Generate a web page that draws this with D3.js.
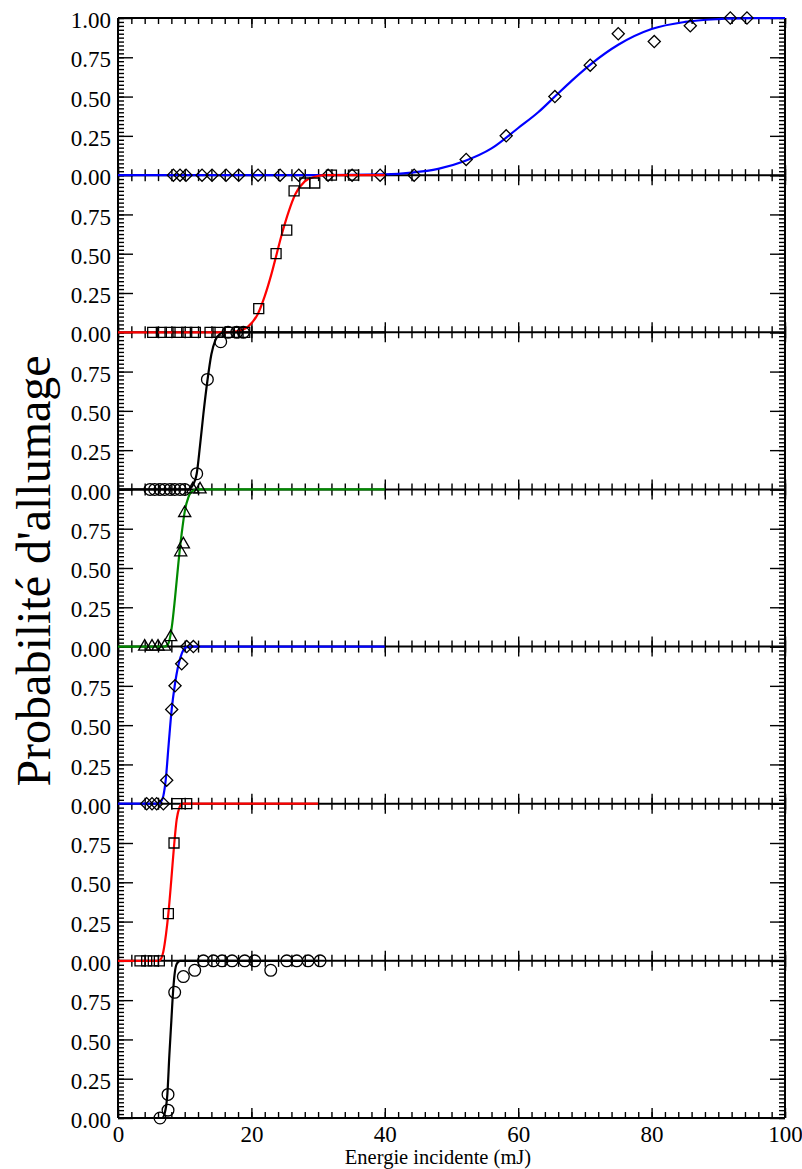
<!DOCTYPE html>
<html><head><meta charset="utf-8">
<script src="https://cdn.jsdelivr.net/npm/d3@7"></script>
<style>
html,body{margin:0;padding:0;background:#fff;}
svg{display:block;}
</style>
</head><body>
<svg id="c" width="802" height="1169" font-family="Liberation Serif, Times New Roman, serif"></svg>
<script>
// ---------- data ----------
const xMajorTicks = [0, 20, 40, 60, 80, 100];
const yMajorTicks = [0, 0.25, 0.5, 0.75];
const yTopPanelTicks = [0, 0.25, 0.5, 0.75, 1];
const xTitle = "Energie incidente (mJ)";
const yTitle = "Probabilité d'allumage";

// panel 1 (diamonds, blue)
const p1MarkX = [8.3, 9.3, 10.2, 12.6, 14.1, 16.2, 18.1, 21.0, 24.3, 27.1, 31.5, 35.1, 39.3, 44.4, 52.2, 58.2, 65.5, 70.8, 75.0, 80.4, 85.8, 91.8, 94.3];
const p1MarkP = [0, 0, 0, 0, 0, 0, 0, 0, 0, 0, 0, 0, 0, 0, 0.10, 0.25, 0.50, 0.70, 0.90, 0.85, 0.95, 1.00, 1.00];
const p1FitX = [0, 30, 40, 44, 48, 52, 56, 60, 63, 65.5, 68, 71, 75, 80, 85, 90, 95, 100];
const p1FitP = [0, 0, 0.005, 0.016, 0.04, 0.09, 0.17, 0.30, 0.40, 0.50, 0.60, 0.71, 0.83, 0.93, 0.975, 0.993, 0.999, 1];

// panel 2 (squares, red)
const p2MarkX = [5.2, 6.5, 7.8, 9.0, 10.3, 11.6, 13.8, 15.0, 16.7, 18.0, 19.0, 21.1, 23.7, 25.3, 26.4, 28.0, 29.5, 32.0, 35.3];
const p2MarkP = [0, 0, 0, 0, 0, 0, 0, 0, 0, 0, 0, 0.15, 0.50, 0.65, 0.90, 0.95, 0.95, 1, 1];
const p2FitX = [0, 16, 18, 19.5, 21, 22, 23, 23.8, 24.6, 25.6, 26.6, 28, 29.5, 31, 40];
const p2FitP = [0, 0, 0.008, 0.036, 0.12, 0.23, 0.37, 0.50, 0.63, 0.77, 0.88, 0.96, 0.99, 1, 1];

// panel 3 (circles, black)
const p3MarkX = [4.8, 5.5, 6.3, 7.0, 7.8, 8.5, 9.3, 10.0, 11.8, 13.4, 15.4, 16.5, 17.8, 18.8];
const p3MarkP = [0, 0, 0, 0, 0, 0, 0, 0, 0.10, 0.70, 0.94, 1, 1, 1];
const p3FitX = [0, 10.5, 11.1, 11.8, 12.3, 12.8, 13.4, 14.0, 14.6, 15.3, 16, 40];
const p3FitP = [0, 0, 0.02, 0.10, 0.28, 0.48, 0.69, 0.86, 0.95, 0.99, 1, 1];

// panel 4 (triangles, green)
const p4MarkX = [4.0, 5.1, 6.0, 7.0, 7.9, 9.4, 9.8, 10.0, 11.2, 12.3];
const p4MarkP = [0, 0, 0, 0, 0.06, 0.60, 0.65, 0.85, 1, 1];
const p4FitX = [0, 7.0, 7.55, 8.05, 8.55, 9.05, 9.55, 10.05, 10.55, 11.05, 11.8, 40];
const p4FitP = [0, 0, 0.02, 0.12, 0.31, 0.53, 0.72, 0.87, 0.95, 0.985, 1, 1];

// panel 5 (diamonds, blue)
const p5MarkX = [4.3, 5.1, 5.8, 6.8, 7.3, 8.05, 8.55, 9.55, 10.3, 11.3];
const p5MarkP = [0, 0, 0, 0, 0.15, 0.60, 0.75, 0.89, 1, 1];
const p5FitX = [0, 6.0, 6.4, 6.8, 7.15, 7.6, 8.05, 8.5, 9.1, 9.6, 10.2, 11, 40];
const p5FitP = [0, 0, 0.01, 0.05, 0.15, 0.38, 0.60, 0.75, 0.89, 0.96, 0.995, 1, 1];

// panel 6 (squares, red)
const p6MarkX = [3.3, 4.3, 5.3, 6.2, 7.55, 8.4, 8.8, 10.3];
const p6MarkP = [0, 0, 0, 0, 0.30, 0.75, 1, 1];
const p6FitX = [0, 6.0, 6.3, 6.8, 7.2, 7.55, 8.0, 8.4, 8.8, 9.2, 9.6, 30];
const p6FitP = [0, 0, 0.005, 0.06, 0.17, 0.30, 0.52, 0.73, 0.90, 0.975, 1, 1];

// panel 7 (circles, black)
const p7MarkX = [6.3, 7.5, 7.5, 8.5, 9.8, 11.5, 12.8, 14.3, 15.6, 17.1, 19.0, 20.5, 22.9, 25.3, 26.8, 28.5, 30.3];
const p7MarkP = [0, 0.05, 0.15, 0.80, 0.90, 0.94, 1, 1, 1, 1, 1, 1, 0.94, 1, 1, 1, 1];
const p7FitX = [0, 6.6, 7.0, 7.4, 7.7, 8.0, 8.25, 8.5, 8.8, 9.3, 30];
const p7FitP = [0, 0, 0.03, 0.15, 0.40, 0.62, 0.80, 0.92, 0.98, 1, 1];

const panels = [
  {mx: p1MarkX, mp: p1MarkP, fx: p1FitX, fp: p1FitP, sym: "diamond",  color: "#0000ff"},
  {mx: p2MarkX, mp: p2MarkP, fx: p2FitX, fp: p2FitP, sym: "square",   color: "#ff0000"},
  {mx: p3MarkX, mp: p3MarkP, fx: p3FitX, fp: p3FitP, sym: "circle",   color: "#000000"},
  {mx: p4MarkX, mp: p4MarkP, fx: p4FitX, fp: p4FitP, sym: "triangle", color: "#008a00"},
  {mx: p5MarkX, mp: p5MarkP, fx: p5FitX, fp: p5FitP, sym: "diamond",  color: "#0000ff"},
  {mx: p6MarkX, mp: p6MarkP, fx: p6FitX, fp: p6FitP, sym: "square",   color: "#ff0000"},
  {mx: p7MarkX, mp: p7MarkP, fx: p7FitX, fp: p7FitP, sym: "circle",   color: "#000000"}
];

// ---------- layout ----------
const FONT = "Liberation Serif, Times New Roman, serif";
const L = 118, R = 785, T = 18, B = 1118;
const n = panels.length;
const ph = (B - T) / n;
const svg = d3.select("#c");
const x = d3.scaleLinear().domain([0, 100]).range([L, R]);
const xMinor = d3.range(0, 100.001, 2);
const yMinor = d3.range(0, 1.0001, 0.025);
const fmt = d3.format(".2f");

const axesG = svg.append("g");
const plotG = svg.append("g");

function clean(sel) {
  sel.attr("font-family", FONT).attr("font-size", 23);
  sel.select(".domain").remove();
  sel.selectAll(".tick line").attr("stroke", "#000").attr("stroke-width", 1.4);
  sel.selectAll("text").attr("font-size", 23).attr("fill", "#000").attr("font-family", FONT);
  return sel;
}

const symbolTypes = {
  diamond: d3.symbol().type(d3.symbolSquare).size(74),
  square: d3.symbol().type(d3.symbolSquare).size(100),
  circle: d3.symbol().type(d3.symbolCircle).size(108),
  triangle: d3.symbol().type(d3.symbolTriangle).size(64)
};

panels.forEach((pn, i) => {
  const y = d3.scaleLinear().domain([0, 1]).range([T + (i + 1) * ph, T + i * ph]);

  // left minor / major
  clean(axesG.append("g").attr("transform", `translate(${L},0)`)
    .call(d3.axisLeft(y).tickValues(yMinor).tickSize(-6).tickFormat("")));
  const lab = axesG.append("g").attr("transform", `translate(${L},0)`)
    .call(d3.axisLeft(y).tickValues(i === 0 ? yTopPanelTicks : yMajorTicks)
      .tickSize(-15).tickPadding(7).tickFormat(fmt));
  clean(lab);
  lab.selectAll("text").attr("dy", "0.42em");

  // right minor / major
  clean(axesG.append("g").attr("transform", `translate(${R},0)`)
    .call(d3.axisRight(y).tickValues(yMinor).tickSize(-6).tickFormat("")));
  clean(axesG.append("g").attr("transform", `translate(${R},0)`)
    .call(d3.axisRight(y).tickValues(yMajorTicks.concat([1])).tickSize(-15).tickFormat("")));

  // fitted curve
  const line = d3.line()
    .x((d, k) => x(pn.fx[k]))
    .y((d, k) => y(pn.fp[k]))
    .curve(d3.curveMonotoneX);
  plotG.append("path").datum(pn.fx)
    .attr("d", line).attr("fill", "none")
    .attr("stroke", pn.color).attr("stroke-width", 2.2);

  // markers
  const gen = symbolTypes[pn.sym];
  plotG.append("g").selectAll("path").data(pn.mx).join("path")
    .attr("d", gen)
    .attr("transform", (d, k) => `translate(${x(d)},${y(pn.mp[k])})` + (pn.sym === "diamond" ? " rotate(45)" : ""))
    .attr("fill", "none").attr("stroke", "#000").attr("stroke-width", 1.3);
});

// horizontal x-axes on every boundary
for (let k = 0; k <= n; k++) {
  const yb = T + k * ph;
  if (k < n) {
    clean(axesG.append("g").attr("transform", `translate(0,${yb})`)
      .call(d3.axisBottom(x).tickValues(xMinor).tickSize(6).tickFormat("")));
    clean(axesG.append("g").attr("transform", `translate(0,${yb})`)
      .call(d3.axisBottom(x).tickValues(xMajorTicks).tickSize(10).tickFormat("")));
  }
  if (k > 0) {
    clean(axesG.append("g").attr("transform", `translate(0,${yb})`)
      .call(d3.axisTop(x).tickValues(xMinor).tickSize(6).tickFormat("")));
    clean(axesG.append("g").attr("transform", `translate(0,${yb})`)
      .call(d3.axisTop(x).tickValues(xMajorTicks).tickSize(10).tickFormat("")));
  }
  axesG.append("line").attr("x1", L).attr("x2", R).attr("y1", yb).attr("y2", yb)
    .attr("stroke", "#000").attr("stroke-width", 2);
}
// vertical frame
axesG.append("line").attr("x1", L).attr("x2", L).attr("y1", T).attr("y2", B).attr("stroke", "#000").attr("stroke-width", 2);
axesG.append("line").attr("x1", R).attr("x2", R).attr("y1", T).attr("y2", B).attr("stroke", "#000").attr("stroke-width", 2);

// x tick labels
const xl = axesG.append("g").attr("transform", `translate(0,${B})`)
  .call(d3.axisBottom(x).tickValues(xMajorTicks).tickSize(0).tickPadding(8).tickFormat(d3.format("d")));
clean(xl);
xl.selectAll(".tick line").remove();

// titles
svg.append("text").attr("x", 438).attr("y", 1164)
  .attr("text-anchor", "middle").attr("font-size", 20.5).attr("font-family", FONT).text(xTitle);
svg.append("text").attr("transform", `translate(50,${571}) rotate(-90)`)
  .attr("text-anchor", "middle").attr("font-size", 48).attr("font-family", FONT).text(yTitle);
</script>
</body></html>
